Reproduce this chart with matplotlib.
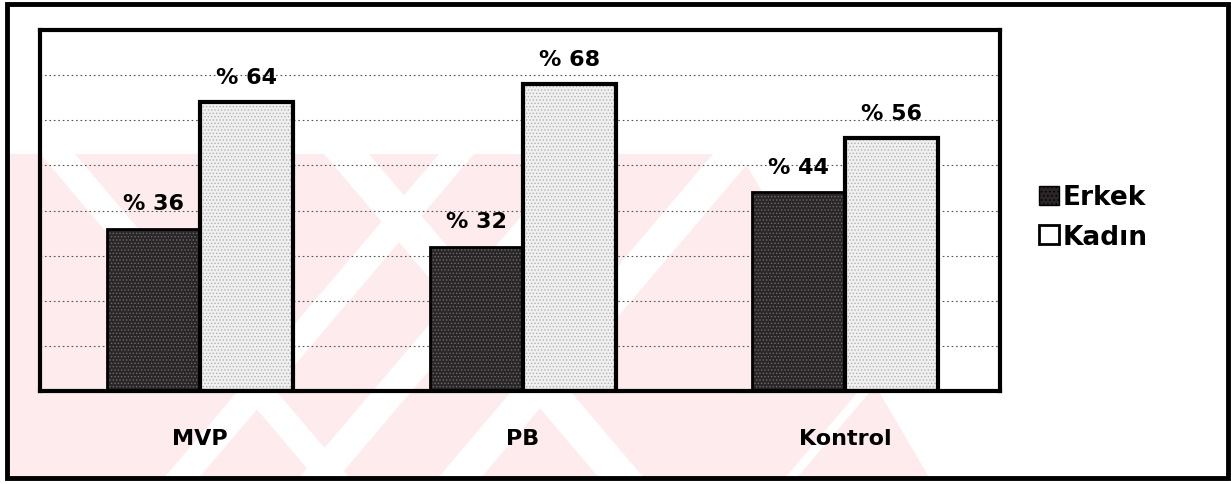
import numpy as np
import matplotlib
matplotlib.use('Agg')
import matplotlib.pyplot as plt
from matplotlib.patches import Rectangle, Polygon

# percentages by group
groups = ['MVP', 'PB', 'Kontrol']
erkek = [36, 32, 44]
kadin = [64, 68, 56]
series_labels = ['Erkek', 'Kad\u0131n']

W, H = 1231, 485
fig = plt.figure(figsize=(W / 100, H / 100), dpi=100)
fig.patch.set_facecolor('white')

def px(x, y):
    # pixel position (from top-left) -> figure fraction
    return (x / W, 1 - y / H)

# faint pink background emblem: a pink field cut by white diagonal gaps
pink = '#fdebed'
frame_clip = Rectangle(px(7, 479), 1221 / W, 474 / H, transform=fig.transFigure)
shapes = [([px(0, 155), px(740, 155), px(930, 480), px(0, 480)], pink)]
slope = 276
for a, w in [(163, 35), (298, 39), (437, 43), (784, 12)]:
    shapes.append(([px(a, 480), px(a + w, 480), px(a + w + slope, 155), px(a + slope, 155)], 'white'))
for a, w in [(316, 35), (600, 45)]:
    shapes.append(([px(a, 480), px(a + w, 480), px(a + w - slope, 155), px(a - slope, 155)], 'white'))
for pts, c in shapes:
    p = Polygon(pts, closed=True, facecolor=c, edgecolor='none',
                transform=fig.transFigure, zorder=-2)
    fig.add_artist(p)
    p.set_clip_path(frame_clip)

# outer frame
fig.add_artist(Rectangle(px(7, 479), 1221 / W, 474 / H, transform=fig.transFigure,
                         fill=False, edgecolor='black', linewidth=3.5, zorder=5))

ax = fig.add_axes([40 / W, 1 - 392 / H, 960 / W, 361 / H])
ax.patch.set_alpha(0)

x = np.arange(len(groups))
width = 0.288

# stippled fill, then the outline on top
plt.rcParams['hatch.linewidth'] = 0.6
ax.bar(x - width / 2, erkek, width, color='#2a2627', hatch='.....',
       edgecolor='#6c6c6c', linewidth=0, zorder=2)
ax.bar(x + width / 2, kadin, width, color='#f0f0f0', hatch='.....',
       edgecolor='#b0b0b0', linewidth=0, zorder=2)
ax.bar(x - width / 2, erkek, width, fill=False, edgecolor='black', linewidth=2, zorder=3)
ax.bar(x + width / 2, kadin, width, fill=False, edgecolor='black', linewidth=3, zorder=3)

for xi, v in zip(x - width / 2, erkek):
    ax.annotate('%% %d' % v, (xi, v), xytext=(0, 11), textcoords='offset points',
                ha='center', va='bottom', fontsize=16, fontweight='bold', zorder=4)
for xi, v in zip(x + width / 2, kadin):
    ax.annotate('%% %d' % v, (xi, v), xytext=(0, 11), textcoords='offset points',
                ha='center', va='bottom', fontsize=16, fontweight='bold', zorder=4)

ax.set_xlim(-0.497, 2.48)
ax.set_ylim(0, 80)
ax.set_yticks(range(10, 80, 10))
ax.yaxis.grid(True, linestyle=(0, (1.5, 2.5)), color='#555555', linewidth=0.8, zorder=0)
ax.set_axisbelow(True)
ax.tick_params(axis='y', left=False, labelleft=False)
ax.set_xticks(x)
ax.set_xticklabels(groups, fontsize=16, fontweight='bold')
ax.tick_params(axis='x', length=0, pad=27)
for s in ax.spines.values():
    s.set_linewidth(3)

# legend
handles = [Rectangle((0, 0), 1, 1, facecolor='#2a2627', edgecolor='black', hatch='....'),
           Rectangle((0, 0), 1, 1, facecolor='white', edgecolor='black', linewidth=2)]
fig.legend(handles, series_labels, loc='center left', bbox_to_anchor=px(1015, 218),
           frameon=False, prop={'weight': 'bold', 'size': 19},
           handlelength=0.75, handleheight=0.75, handletextpad=0.15, labelspacing=0.5)

fig.savefig('out.png', dpi=100)
